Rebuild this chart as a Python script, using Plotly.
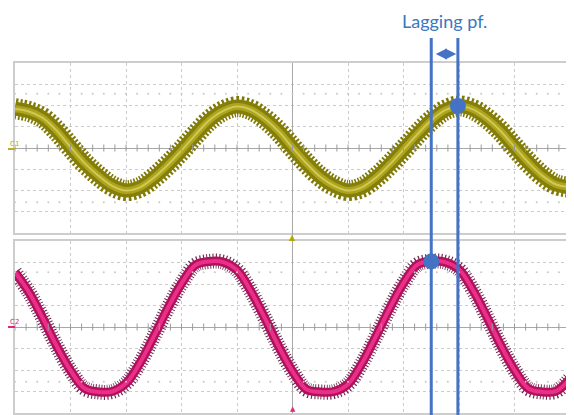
import plotly.graph_objects as go
import numpy as np

# time axis in scope divisions
t = [-5.00, -4.75, -4.50, -4.25, -4.00, -3.75, -3.50, -3.25, -3.00, -2.75,
     -2.50, -2.25, -2.00, -1.75, -1.50, -1.25, -1.00, -0.75, -0.50, -0.25,
     0.00, 0.25, 0.50, 0.75, 1.00, 1.25, 1.50, 1.75, 2.00, 2.25,
     2.50, 2.75, 3.00, 3.25, 3.50, 3.75, 4.00, 4.25, 4.50, 4.75, 5.00]

# channel 1 (voltage) in divisions
c1 = [1.85, 1.72, 1.42, 0.82, 0.05, -0.70, -1.30, -1.78, -2.00, -1.85,
      -1.40, -0.80, -0.12, 0.62, 1.30, 1.75, 1.95, 1.80, 1.38, 0.78,
      0.02, -0.72, -1.35, -1.78, -2.00, -1.85, -1.40, -0.78, -0.08, 0.65,
      1.30, 1.78, 1.98, 1.82, 1.40, 0.80, 0.05, -0.68, -1.30, -1.72, -1.85]

# channel 2 (current) in divisions
c2 = [2.55, 1.62, 0.42, -0.88, -2.02, -2.85, -3.02, -3.00, -2.62, -1.68,
      -0.45, 0.86, 2.02, 2.88, 3.05, 3.02, 2.65, 1.66, 0.42, -0.90,
      -2.06, -2.90, -3.02, -3.00, -2.66, -1.70, -0.45, 0.86, 2.04, 2.90,
      3.06, 3.02, 2.68, 1.72, 0.48, -0.84, -2.00, -2.86, -3.02, -2.98, -2.40]

# cursor positions (time, value)
cursor_c2 = (2.50, 3.05)
cursor_c1 = (2.98, 1.98)
label_text = "Lagging pf."

# page body has an 8px margin; lay the figure out in window pixels minus that offset
OFF = 8
W, H = 574 - OFF, 415 - OFF
def px(p):
    return (p - OFF) / W
def py(p):
    return 1 - (p - OFF) / H

fig = go.Figure()

# channel 1 band
fig.add_trace(go.Scatter(x=t, y=c1, mode="lines", line=dict(color="#7f7a08", width=21, shape="spline", dash="2px,2px"), xaxis="x", yaxis="y", hoverinfo="skip"))
fig.add_trace(go.Scatter(x=t, y=c1, mode="lines", line=dict(color="#857f0a", width=14, shape="spline"), xaxis="x", yaxis="y", hoverinfo="skip"))
fig.add_trace(go.Scatter(x=t, y=c1, mode="lines", line=dict(color="#aca41c", width=7, shape="spline"), xaxis="x", yaxis="y", hoverinfo="skip"))
fig.add_trace(go.Scatter(x=t, y=c1, mode="lines", line=dict(color="#cfc855", width=2, shape="spline"), xaxis="x", yaxis="y", hoverinfo="skip"))

# channel 2 band
fig.add_trace(go.Scatter(x=t, y=c2, mode="lines", line=dict(color="#6e2a4c", width=15, shape="spline", dash="1px,2px"), xaxis="x2", yaxis="y2", hoverinfo="skip"))
fig.add_trace(go.Scatter(x=t, y=c2, mode="lines", line=dict(color="#b0105e", width=9, shape="spline"), xaxis="x2", yaxis="y2", hoverinfo="skip"))
fig.add_trace(go.Scatter(x=t, y=c2, mode="lines", line=dict(color="#ec2f86", width=4, shape="spline"), xaxis="x2", yaxis="y2", hoverinfo="skip"))

# centre-line minor ticks and dotted rows
minor = np.round(np.arange(-5, 5.001, 0.2), 2)
for xa, ya in (("x", "y"), ("x2", "y2")):
    fig.add_trace(go.Scatter(x=minor, y=[0] * len(minor), mode="markers",
                             marker=dict(symbol="line-ns", size=5, line=dict(color="#9a9a9a", width=1)),
                             xaxis=xa, yaxis=ya, hoverinfo="skip"))
    for yy in (2.55, -2.55):
        fig.add_trace(go.Scatter(x=minor, y=[yy] * len(minor), mode="markers",
                                 marker=dict(symbol="circle", size=2, color="#c8c8c8"),
                                 xaxis=xa, yaxis=ya, hoverinfo="skip"))

# cursor dots
fig.add_trace(go.Scatter(x=[cursor_c1[0]], y=[cursor_c1[1]], mode="markers",
                         marker=dict(size=16, color="#4472c4"), xaxis="x", yaxis="y", hoverinfo="skip"))
fig.add_trace(go.Scatter(x=[cursor_c2[0]], y=[cursor_c2[1]], mode="markers",
                         marker=dict(size=16, color="#4472c4"), xaxis="x2", yaxis="y2", hoverinfo="skip"))

x_dom = [px(15), px(570)]
axis_common = dict(range=[-5, 5], dtick=1, tick0=0, showgrid=True, gridcolor="#cbcbcb",
                   griddash="dot", gridwidth=1, showticklabels=False, ticks="",
                   zeroline=True, zerolinecolor="#a8a8a8", zerolinewidth=1,
                   showline=True, mirror=True, linecolor="#cdcdcd", linewidth=1.5, fixedrange=True)
yaxis_common = dict(range=[-4, 4], dtick=1, tick0=0, showgrid=True, gridcolor="#cbcbcb",
                    griddash="dot", gridwidth=1, showticklabels=False, ticks="",
                    zeroline=True, zerolinecolor="#a8a8a8", zerolinewidth=1,
                    showline=True, mirror=True, linecolor="#cdcdcd", linewidth=1.5, fixedrange=True)

fig.update_layout(
    width=W, height=H, margin=dict(l=0, r=0, t=0, b=0),
    paper_bgcolor="white", plot_bgcolor="white", showlegend=False,
    xaxis=dict(domain=x_dom, anchor="y", **axis_common),
    yaxis=dict(domain=[py(233), py(63)], anchor="x", **yaxis_common),
    xaxis2=dict(domain=x_dom, anchor="y2", **axis_common),
    yaxis2=dict(domain=[py(413), py(241)], anchor="x2", **yaxis_common),
)

shapes = []
# centre line across the gap
shapes.append(dict(type="line", xref="x", yref="paper", x0=0, x1=0, y0=py(241), y1=py(233),
                   line=dict(color="#a8a8a8", width=1)))
# cursor lines
for cx in (cursor_c2[0], cursor_c1[0]):
    shapes.append(dict(type="line", xref="x", yref="paper", x0=cx, x1=cx, y0=0, y1=py(38),
                       line=dict(color="#4472c4", width=3), layer="above"))
# channel marks at left
shapes.append(dict(type="line", xref="paper", yref="paper", x0=0, x1=px(15), y0=py(149), y1=py(149),
                   line=dict(color="#b8b020", width=2)))
shapes.append(dict(type="line", xref="paper", yref="paper", x0=0, x1=px(15), y0=py(327), y1=py(327),
                   line=dict(color="#e0287a", width=2)))
fig.update_layout(shapes=shapes)

ann = []
ann.append(dict(text=label_text, xref="x", yref="paper", x=(cursor_c1[0] + cursor_c2[0]) / 2, y=py(21),
                showarrow=False, font=dict(family="Lato", size=18, color="#3a78c0"),
                xanchor="center", yanchor="middle"))
ann.append(dict(xref="x", yref="paper", x=cursor_c1[0] - 0.03, y=py(54), ax=-22, ay=0,
                axref="pixel", ayref="pixel", text="", showarrow=True, arrowhead=2, arrowsize=1.1,
                arrowwidth=2, arrowcolor="#4472c4", arrowside="end+start"))
ann.append(dict(text="C1", xref="paper", yref="paper", x=0, y=py(144), showarrow=False,
                font=dict(family="DejaVu Sans", size=7, color="#b8b020"), xanchor="left", yanchor="middle"))
ann.append(dict(text="C2", xref="paper", yref="paper", x=0, y=py(322), showarrow=False,
                font=dict(family="DejaVu Sans", size=7, color="#e0287a"), xanchor="left", yanchor="middle"))
ann.append(dict(text="▲", xref="x", yref="paper", x=0, y=py(237), showarrow=False,
                font=dict(family="DejaVu Sans", size=8, color="#b0a800"), xanchor="center", yanchor="middle"))
ann.append(dict(text="▲", xref="x", yref="paper", x=0, y=py(409), showarrow=False,
                font=dict(family="DejaVu Sans", size=7, color="#e0287a"), xanchor="center", yanchor="middle"))
fig.update_layout(annotations=ann)

fig.write_html("out.html")
